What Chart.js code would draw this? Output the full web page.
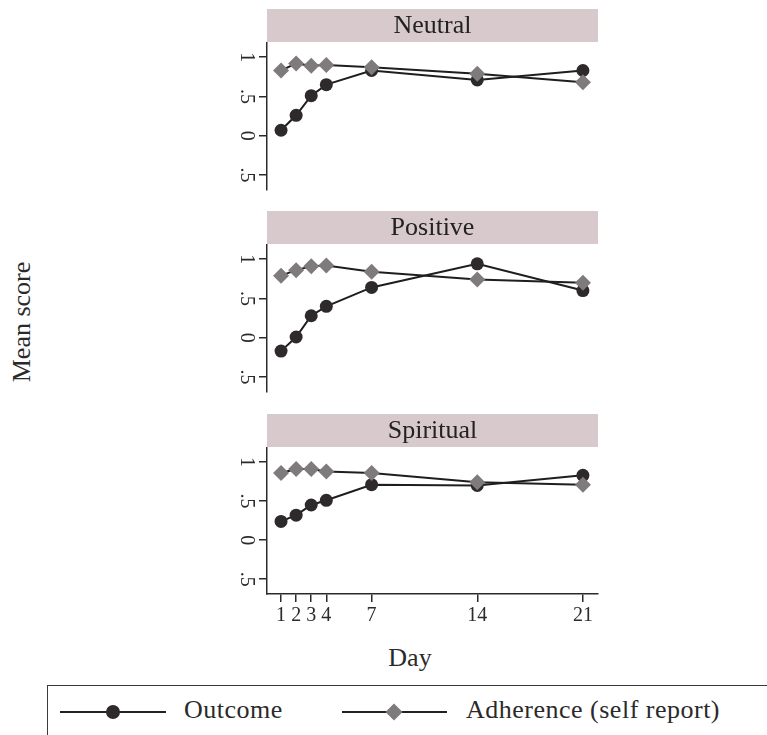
<!DOCTYPE html>
<html>
<head>
<meta charset="utf-8">
<script src="https://cdn.jsdelivr.net/npm/chart.js@4.4.1/dist/chart.umd.min.js"></script>
<style>
  body { margin: 0; background: #fff; font-family: 'Liberation Serif', serif; color: #2a2a2a; }
  #wrap { position: relative; width: 767px; height: 735px; overflow: hidden; }
  canvas { position: absolute; left: 200px; }
  .ytitle { position: absolute; left: 22px; top: 322px; transform: translate(-50%, -50%) rotate(-90deg); font-size: 26px; white-space: nowrap; }
  .xtitle { position: absolute; left: 410px; top: 658px; transform: translate(-50%, -50%); font-size: 26px; }
  .legend { position: absolute; left: 47px; top: 685px; width: 760px; height: 80px; border: 1.5px solid #3a3a3a; }
  .item { position: absolute; top: 0; height: 52px; }
  .item .line { position: absolute; top: 25px; height: 0; border-top: 2px solid #222; }
  .item .dot { position: absolute; top: 19px; width: 14px; height: 14px; border-radius: 50%; background: #2e2a2c; }
  .item .dia { position: absolute; top: 20px; width: 12px; height: 12px; background: #7f7a7c; transform: rotate(45deg); }
  .item span { position: absolute; top: 9px; font-size: 26px; white-space: nowrap; letter-spacing: 0.5px; }
</style>
</head>
<body>
<div id="wrap">
  <canvas id="panel1" width="410" height="192" style="top:0px"></canvas>
  <canvas id="panel2" width="410" height="192" style="top:202px"></canvas>
  <canvas id="panel3" width="410" height="229" style="top:405px"></canvas>
  <div class="ytitle">Mean score</div>
  <div class="xtitle">Day</div>
  <div class="legend">
    <div class="item"><div class="line" style="left:12px;width:106px"></div><div class="dot" style="left:58px"></div><span style="left:136px">Outcome</span></div>
    <div class="item"><div class="line" style="left:294px;width:105px"></div><div class="dia" style="left:340px"></div><span style="left:418px">Adherence (self report)</span></div>
  </div>
</div>
<script>
const days = [1, 2, 3, 4, 7, 14, 21];
const panelTitles = ['Neutral', 'Positive', 'Spiritual'];
const yTicks = [-0.5, 0, 0.5, 1];
const yTickLabels = ['.5', '0', '.5', '1'];

const outcomeNeutral = [0.07, 0.26, 0.51, 0.65, 0.83, 0.71, 0.83];
const adherenceNeutral = [0.83, 0.92, 0.89, 0.90, 0.87, 0.79, 0.68];
const outcomePositive = [-0.17, 0.01, 0.28, 0.40, 0.64, 0.94, 0.60];
const adherencePositive = [0.79, 0.86, 0.91, 0.92, 0.84, 0.74, 0.70];
const outcomeSpiritual = [0.24, 0.32, 0.45, 0.51, 0.71, 0.70, 0.83];
const adherenceSpiritual = [0.86, 0.91, 0.91, 0.88, 0.86, 0.74, 0.71];

const ink = '#2a2a2a';
const tickFont = { family: "'Liberation Serif', serif", size: 20 };

// grey strip with the panel name above each plot
const stripLabel = {
    id: 'stripLabel',
    beforeDraw(chart, args, opts) {
        const { ctx, chartArea } = chart;
        ctx.save();
        ctx.fillStyle = '#d8c9cc';
        ctx.fillRect(chartArea.left, chartArea.top - 34, chartArea.right - chartArea.left, 33);
        ctx.fillStyle = '#222';
        ctx.font = "26px 'Liberation Serif', serif";
        ctx.textAlign = 'center';
        ctx.textBaseline = 'middle';
        ctx.fillText(opts.text, (chartArea.left + chartArea.right) / 2, chartArea.top - 17);
        ctx.restore();
    }
};

function toPoints(values) {
    return values.map((v, i) => ({ x: days[i], y: v }));
}

function makePanel(id, title, outcome, adherence, showX) {
    const ctx = document.getElementById(id);
    new Chart(ctx, {
        type: 'line',
        data: {
            datasets: [{
                label: 'Outcome',
                data: toPoints(outcome),
                borderColor: '#1e1e1e',
                borderWidth: 2,
                pointStyle: 'circle',
                pointRadius: 6.5,
                pointBackgroundColor: '#2e2a2c',
                pointBorderWidth: 0,
                clip: false,
                order: 1
            }, {
                label: 'Adherence (self report)',
                data: toPoints(adherence),
                borderColor: '#1e1e1e',
                borderWidth: 2,
                pointStyle: 'rectRot',
                pointRadius: 8,
                pointBackgroundColor: '#7f7a7c',
                pointBorderWidth: 0,
                clip: false,
                order: 0
            }]
        },
        options: {
            responsive: false,
            animation: false,
            layout: { autoPadding: false, padding: { top: 43, right: 12, left: 0, bottom: showX ? 0 : 2 } },
            plugins: {
                legend: { display: false },
                tooltip: { enabled: false },
                stripLabel: { text: title }
            },
            scales: {
                x: {
                    type: 'linear',
                    min: 0.07,
                    max: 22,
                    display: showX,
                    afterBuildTicks: s => { s.ticks = days.map(v => ({ value: v })); },
                    afterFit: s => { s.height = showX ? 40 : 0; },
                    grid: { drawOnChartArea: false, tickLength: 8, color: ink, tickColor: ink, lineWidth: 1.5 },
                    border: { color: ink, width: 1.5 },
                    ticks: { autoSkip: false, maxRotation: 0, padding: 2, font: tickFont, color: ink }
                },
                y: {
                    min: -0.69,
                    max: 1.18,
                    afterBuildTicks: s => { s.ticks = yTicks.map(v => ({ value: v })); },
                    afterFit: s => { s.width = 67; s.paddingTop = 0; s.paddingBottom = 0; },
                    grid: { drawOnChartArea: false, tickLength: 8, color: ink, tickColor: ink, lineWidth: 1.5 },
                    border: { color: ink, width: 1.5 },
                    ticks: {
                        autoSkip: false,
                        minRotation: -90,
                        maxRotation: -90,
                        crossAlign: 'center',
                        padding: 5,
                        font: tickFont,
                        color: ink,
                        callback: v => yTickLabels[yTicks.indexOf(v)]
                    }
                }
            }
        },
        plugins: [stripLabel]
    });
}

makePanel('panel1', panelTitles[0], outcomeNeutral, adherenceNeutral, false);
makePanel('panel2', panelTitles[1], outcomePositive, adherencePositive, false);
makePanel('panel3', panelTitles[2], outcomeSpiritual, adherenceSpiritual, true);
</script>
</body>
</html>
